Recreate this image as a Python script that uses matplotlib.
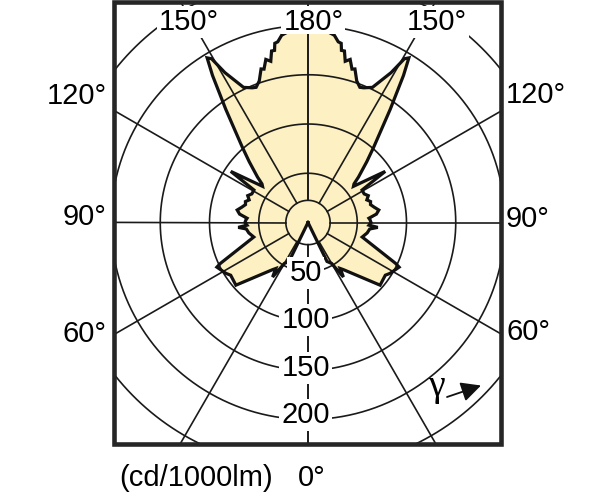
import numpy as np
import matplotlib
matplotlib.use('Agg')
import matplotlib.pyplot as plt
from matplotlib.patches import Rectangle

# ---- data (right half, mirrored to the left) ----
gamma_deg = [0, 26, 30, 33, 35, 37, 49, 55.7, 58.2, 63.9, 65, 75,
             80, 84, 86, 87.5, 90, 92.5, 94, 97, 100, 103, 106, 108.5,
             111, 114, 117, 121, 123.5, 128.5, 130, 132, 136, 139, 144,
             147, 148.5, 149.5, 151, 154.5, 157.5, 159, 161, 163, 164,
             165.5, 167, 168, 169, 169.5, 170.5, 172, 175, 180]
intensity = [0, 44, 48, 66, 57, 60, 97, 95, 98, 103, 98, 57,
             61, 63, 71, 62, 64, 63, 62, 70, 73, 69, 66, 67,
             64, 67, 64, 64, 94, 59, 61, 69, 86, 102, 142,
             178, 196, 193, 174, 152, 148, 147, 152, 163, 162,
             171, 168, 178, 178, 185, 186, 192, 196, 196]
ring_values = [50, 100, 150, 200, 250]
ring_labels = ['50', '100', '150', '200']
hub_radius = 22.5
spoke_angles = [0, 30, 60, 90, 120, 150, 180]
top_labels = ['150°', '180°', '150°']
left_labels = ['120°', '90°', '60°']
right_labels = ['120°', '90°', '60°']
unit_label = '(cd/1000lm)'
zero_label = '0°'

plt.rcParams['font.family'] = ['Liberation Sans', 'DejaVu Sans']

W, H = 612, 500
fig = plt.figure(figsize=(W / 100, H / 100), dpi=100)
cx, cy = 308.0, 222.5
k = 0.985
rmax = 310
half = rmax * k
ax = fig.add_axes([(cx - half) / W, (H - cy - half) / H, 2 * half / W, 2 * half / H],
                  projection='polar')
ax.set_theta_zero_location('S')
ax.set_theta_direction(1)
ax.set_ylim(0, rmax)
ax.axis('off')

ov = fig.add_axes([0, 0, 1, 1])
ov.set_xlim(0, W)
ov.set_ylim(H, 0)
ov.axis('off')

box = (114, 1.7, 386.5, 442.3)


def clip(artist):
    artist.set_clip_path(Rectangle(box[:2], box[2], box[3], transform=ov.transData))


g = np.radians(np.array(gamma_deg, dtype=float))
I = np.array(intensity, dtype=float)
th = np.concatenate([g, -g[::-1]])
rr = np.concatenate([I, I[::-1]])

fill_col = '#fdf0c2'
line_col = '#1a1a1a'
ax.fill(th, rr, color=fill_col, lw=0, zorder=1)

# grid
circ = np.linspace(0, 2 * np.pi, 720)
for rv in ring_values + [hub_radius]:
    ln, = ax.plot(circ, np.full_like(circ, rv), color=line_col, lw=1.2, zorder=2)
    clip(ln)
for a in spoke_angles:
    for s in (1, -1):
        ln, = ax.plot([s * np.radians(a)] * 2, [hub_radius, rmax], color=line_col,
                      lw=1.2, zorder=2)
        clip(ln)

# outline
ax.plot(np.append(th, th[0]), np.append(rr, rr[0]), color='#111111', lw=2.3,
        zorder=4, solid_joinstyle='miter')

fs = 21
bb = dict(boxstyle='square,pad=0.08', fc='white', ec='none')
# tight white patch behind the 180° label
ov.add_patch(Rectangle((281, 6), 64, 27.5, fc='white', ec='none', zorder=4))
for txt, (x, y) in zip(top_labels, [(189, 22), (314, 22), (436.5, 22)]):
    ov.text(x, y, txt, fontsize=fs, ha='center', va='center',
            bbox=None if txt == '180°' else bb, zorder=5)
for txt, y in zip(left_labels, [96, 217, 334]):
    ov.text(107, y, txt, fontsize=fs, ha='right', va='center', zorder=5)
for txt, y in zip(right_labels, [95, 219, 332]):
    ov.text(506, y, txt, fontsize=fs, ha='left', va='center', zorder=5)
for txt, y in zip(ring_labels, [273, 320, 368, 415]):
    ov.text(305.5, y, txt, fontsize=fs, ha='center', va='center', bbox=bb, zorder=5)
ov.text(196, 478, unit_label, fontsize=fs, ha='center', va='center')
ov.text(312, 478, zero_label, fontsize=fs, ha='center', va='center')

# gamma arrow
ov.text(436.5, 396, 'γ', family=['Liberation Serif', 'DejaVu Serif'], fontsize=27,
        ha='center', va='baseline', zorder=5)
ov.annotate('', xy=(481, 385.5), xytext=(447, 397),
            arrowprops=dict(arrowstyle='-|>,head_length=0.6,head_width=0.3',
                            color='#111111', lw=1.3, mutation_scale=20,
                            shrinkA=0, shrinkB=0), zorder=5)

ov.add_patch(Rectangle(box[:2], box[2], box[3], fill=False, ec='#262626', lw=3.3,
                       zorder=6))

fig.savefig('out.png', dpi=100)
